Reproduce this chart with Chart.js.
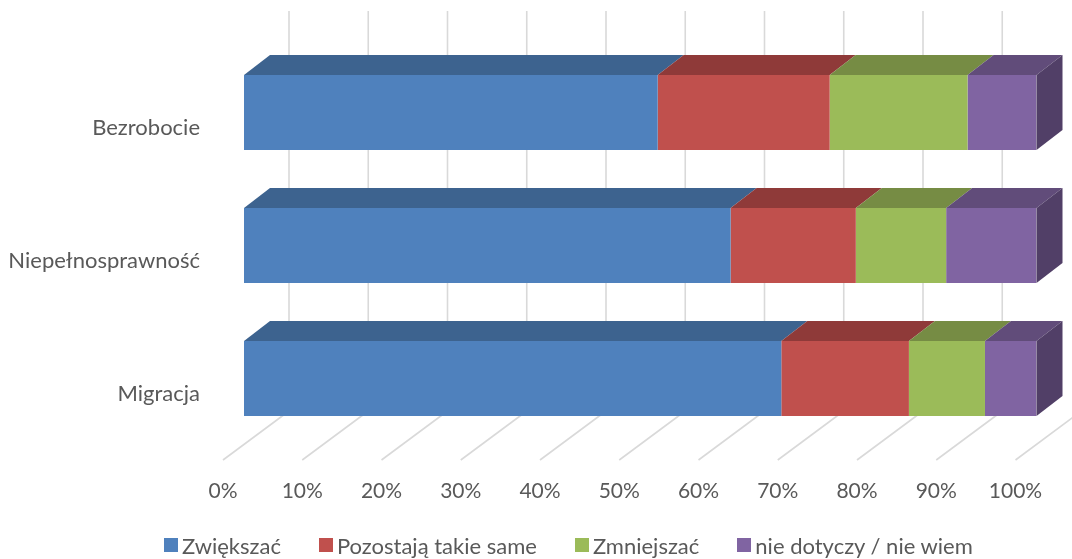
<!DOCTYPE html>
<html>
<head>
<meta charset="utf-8">
<script src="https://cdn.jsdelivr.net/npm/chart.js@4/dist/chart.umd.min.js"></script>
<style>
  html, body { margin: 0; padding: 0; background: #fff; }
  #wrap { position: relative; width: 1072px; height: 559px; }
  #legend {
    position: absolute; left: 164px; top: 531px; height: 28px;
    display: flex; align-items: center; gap: 38px;
    font: 22px Lato, "Open Sans", sans-serif; color: #595959; white-space: nowrap;
  }
  #legend span.item { display: flex; align-items: center; }
  #legend i { display: inline-block; width: 14px; height: 14px; margin-right: 4px; }
</style>
</head>
<body>
<div id="wrap">
  <canvas id="myChart"></canvas>
  <div id="legend"></div>
</div>
<script>
'use strict';

//// Data
const categories = ['Bezrobocie', 'Niepełnosprawność', 'Migracja'];
const seriesNames = ['Zwiększać', 'Pozostają takie same', 'Zmniejszać', 'nie dotyczy / nie wiem'];
const zwiekszac  = [52.2, 61.4, 67.8];
const pozostaja  = [21.7, 15.8, 16.1];
const zmniejszac = [17.4, 11.4,  9.6];
const nieDotyczy = [ 8.7, 11.4,  6.5];
const tickValues = [0, 10, 20, 30, 40, 50, 60, 70, 80, 90, 100];

//// Colours: front face, top face, side face
const faces = [
    { front: '#4F81BD', top: '#3D638F', side: '#2F4D70' },
    { front: '#C0504D', top: '#8F3A39', side: '#6E2D2B' },
    { front: '#9BBB59', top: '#768C44', side: '#5B6C34' },
    { front: '#8064A2', top: '#614C7A', side: '#513F67' }
];

const FONT = 'Lato, "Open Sans", sans-serif';
const TEXT = '#595959';

// depth of the boxes and of the floor / back wall
const DX = 26, DY = 20;
const WALL_DX = 45;

//// 3D look: back wall + floor grid, box tops and end cap
const box3d = {
    id: 'box3d',
    beforeDatasetsDraw(chart) {
        const ctx = chart.ctx;
        const xs = chart.scales.x;
        const area = chart.chartArea;
        ctx.save();
        ctx.strokeStyle = '#D9D9D9';
        ctx.lineWidth = 1.6;
        tickValues.forEach(v => {
            const px = xs.getPixelForValue(v);
            const backBottom = area.bottom - 34;
            ctx.beginPath();
            ctx.moveTo(px + WALL_DX, area.top - 35);
            ctx.lineTo(px + WALL_DX, backBottom);
            ctx.stroke();
            ctx.beginPath();
            ctx.moveTo(px - 21, area.bottom + 15);
            ctx.lineTo(px + WALL_DX, backBottom);
            ctx.stroke();
        });
        ctx.restore();
    },
    afterDatasetsDraw(chart) {
        const ctx = chart.ctx;
        const last = chart.data.datasets.length - 1;
        ctx.save();
        chart.data.datasets.forEach((ds, i) => {
            const meta = chart.getDatasetMeta(i);
            if (meta.hidden) return;
            meta.data.forEach(bar => {
                const p = bar.getProps(['x', 'y', 'base', 'height'], true);
                const top = p.y - p.height / 2;
                const bottom = p.y + p.height / 2;
                // top face
                ctx.fillStyle = faces[i].top;
                ctx.beginPath();
                ctx.moveTo(p.base, top);
                ctx.lineTo(p.x, top);
                ctx.lineTo(p.x + DX, top - DY);
                ctx.lineTo(p.base + DX, top - DY);
                ctx.closePath();
                ctx.fill();
                // right end of the stack
                if (i === last) {
                    ctx.fillStyle = faces[i].side;
                    ctx.beginPath();
                    ctx.moveTo(p.x, top);
                    ctx.lineTo(p.x + DX, top - DY);
                    ctx.lineTo(p.x + DX, bottom - DY);
                    ctx.lineTo(p.x, bottom);
                    ctx.closePath();
                    ctx.fill();
                }
            });
        });
        ctx.restore();
    }
};

const seriesData = [zwiekszac, pozostaja, zmniejszac, nieDotyczy];

var ctx = document.getElementById('myChart').getContext('2d');

var chart = new Chart(ctx, {
    type: 'bar',
    data: {
        labels: categories,
        datasets: seriesNames.map((name, i) => ({
            label: name,
            data: seriesData[i],
            backgroundColor: faces[i].front,
            borderWidth: 0,
            barPercentage: 0.564,
            categoryPercentage: 1
        }))
    },
    options: {
        indexAxis: 'y',
        responsive: true,
        maintainAspectRatio: false,
        animation: false,
        layout: { padding: { top: 46, right: 35.5, left: 0, bottom: 0 } },
        scales: {
            x: {
                stacked: true,
                min: 0,
                max: 100,
                grid: { display: false, drawTicks: false },
                border: { display: false },
                afterBuildTicks(scale) {
                    scale.ticks = tickValues.map(v => ({ value: v }));
                },
                afterFit(scale) {
                    scale.height = 114;
                    scale.paddingLeft = 0;
                    scale.paddingRight = 0;
                },
                ticks: {
                    padding: 34,
                    labelOffset: -21,
                    maxRotation: 0,
                    autoSkip: false,
                    color: TEXT,
                    font: { family: FONT, size: 21 },
                    callback: v => v + '%'
                }
            },
            y: {
                stacked: true,
                grid: { display: false, drawTicks: false },
                border: { display: false },
                afterFit(scale) {
                    scale.width = 244;
                    scale.paddingTop = 0;
                    scale.paddingBottom = 0;
                },
                ticks: {
                    padding: 44,
                    labelOffset: 15,
                    color: TEXT,
                    font: { family: FONT, size: 22 }
                }
            }
        },
        plugins: {
            tooltip: { enabled: false },
            legend: { display: false }
        }
    },
    plugins: [box3d]
});

//// Legend
const legendBox = document.getElementById('legend');
seriesNames.forEach((name, i) => {
    const item = document.createElement('span');
    item.className = 'item';
    const sw = document.createElement('i');
    sw.style.background = faces[i].front;
    item.appendChild(sw);
    item.appendChild(document.createTextNode(name));
    legendBox.appendChild(item);
});
</script>
</body>
</html>
